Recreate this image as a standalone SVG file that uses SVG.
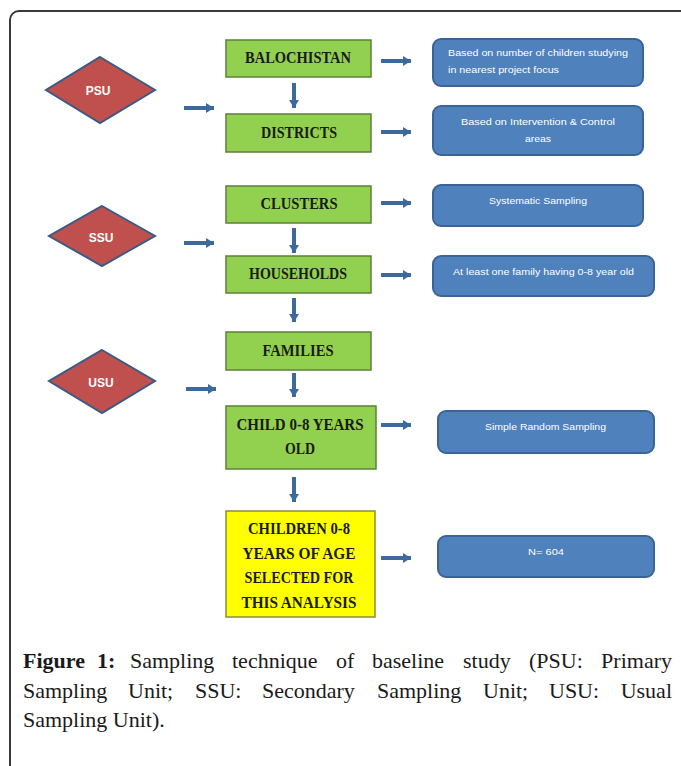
<svg xmlns="http://www.w3.org/2000/svg" width="681" height="766" viewBox="0 0 681 766">
<defs>
<marker id="ah" markerWidth="8" markerHeight="10" refX="8" refY="5" orient="auto" markerUnits="userSpaceOnUse">
<path d="M0,0 L8,5 L0,10 z" fill="#3d6a9c"/>
</marker>
<style>
.frame{fill:none;stroke:#3a3a3a;stroke-width:2}
.dia{fill:#c0504d;stroke:#3b5a86;stroke-width:2}
.dlab{font-family:"Liberation Sans",Arial,sans-serif;font-size:12px;font-weight:bold;fill:#ffffff;text-anchor:middle}
.green{fill:#92d050;stroke:#5f7f3a;stroke-width:1.5}
.yellow{fill:#ffff00;stroke:#8c8c3a;stroke-width:1.5}
.glab{font-family:"Liberation Serif","Times New Roman",serif;font-size:16px;font-weight:bold;fill:#1a1a1a;text-anchor:middle}
.blue{fill:#4f81bd;stroke:#3a6396;stroke-width:2}
.blab{font-family:"Liberation Sans",Arial,sans-serif;font-size:9px;fill:#ffffff}
.conn line{stroke:#3d6a9c;stroke-width:4;marker-end:url(#ah)}
.cap{font-family:"Liberation Serif","Times New Roman",serif;font-size:22px;fill:#1a1a1a}
</style>
</defs>
<rect class="frame" x="10" y="11" width="700" height="800" rx="9"/>

<g id="psu"><polygon class="dia" points="100,57 155,90 100,123 46,90"/><text class="dlab" x="98" y="95">PSU</text></g>
<g id="ssu"><polygon class="dia" points="102,206 155,236 102,266 49,236"/><text class="dlab" x="101" y="242">SSU</text></g>
<g id="usu"><polygon class="dia" points="102,350 155,381 102,413 49,381"/><text class="dlab" x="101" y="387">USU</text></g>

<g id="balochistan"><rect class="green" x="226" y="40" width="145" height="37"/><text class="glab" x="298" y="63" textLength="106" lengthAdjust="spacingAndGlyphs">BALOCHISTAN</text></g>
<g id="districts"><rect class="green" x="226" y="114" width="145" height="38"/><text class="glab" x="299" y="138" textLength="76" lengthAdjust="spacingAndGlyphs">DISTRICTS</text></g>
<g id="clusters"><rect class="green" x="226" y="186" width="145" height="37"/><text class="glab" x="299" y="209" textLength="77" lengthAdjust="spacingAndGlyphs">CLUSTERS</text></g>
<g id="households"><rect class="green" x="226" y="256" width="145" height="37"/><text class="glab" x="298" y="279" textLength="98" lengthAdjust="spacingAndGlyphs">HOUSEHOLDS</text></g>
<g id="families"><rect class="green" x="226" y="332" width="145" height="38"/><text class="glab" x="298" y="356" textLength="71" lengthAdjust="spacingAndGlyphs">FAMILIES</text></g>
<g id="child"><rect class="green" x="226" y="406" width="150" height="63"/><text class="glab" x="300" y="430" textLength="127" lengthAdjust="spacingAndGlyphs">CHILD 0-8 YEARS</text><text class="glab" x="300" y="454" textLength="30" lengthAdjust="spacingAndGlyphs">OLD</text></g>
<g id="selected"><rect class="yellow" x="226" y="511" width="149" height="106"/>
<text class="glab" x="299" y="534" textLength="102" lengthAdjust="spacingAndGlyphs">CHILDREN 0-8</text>
<text class="glab" x="299" y="559" textLength="113" lengthAdjust="spacingAndGlyphs">YEARS OF AGE</text>
<text class="glab" x="299" y="583" textLength="109" lengthAdjust="spacingAndGlyphs">SELECTED FOR</text>
<text class="glab" x="299" y="608" textLength="115" lengthAdjust="spacingAndGlyphs">THIS ANALYSIS</text></g>

<g id="b1"><rect class="blue" x="433" y="39" width="210" height="47" rx="8"/><text class="blab" x="448" y="56" textLength="180" lengthAdjust="spacingAndGlyphs">Based on number of children studying</text><text class="blab" x="448" y="73" textLength="111" lengthAdjust="spacingAndGlyphs">in nearest project focus</text></g>
<g id="b2"><rect class="blue" x="433" y="106" width="210" height="49" rx="8"/><text class="blab" x="461" y="125" textLength="154" lengthAdjust="spacingAndGlyphs">Based on Intervention &amp; Control</text><text class="blab" x="525" y="142" textLength="26" lengthAdjust="spacingAndGlyphs">areas</text></g>
<g id="b3"><rect class="blue" x="433" y="185" width="210" height="41" rx="8"/><text class="blab" x="489" y="204" textLength="98" lengthAdjust="spacingAndGlyphs">Systematic Sampling</text></g>
<g id="b4"><rect class="blue" x="433" y="256" width="221" height="40" rx="8"/><text class="blab" x="453" y="275" textLength="181" lengthAdjust="spacingAndGlyphs">At least one family having 0-8 year old</text></g>
<g id="b5"><rect class="blue" x="438" y="411" width="216" height="42" rx="8"/><text class="blab" x="485" y="430" textLength="121" lengthAdjust="spacingAndGlyphs">Simple Random Sampling</text></g>
<g id="b6"><rect class="blue" x="438" y="536" width="216" height="41" rx="8"/><text class="blab" x="528" y="555" textLength="36" lengthAdjust="spacingAndGlyphs">N= 604</text></g>

<g id="connectors" class="conn">
<line x1="184" y1="108" x2="214" y2="108"/>
<line x1="184" y1="243" x2="214" y2="243"/>
<line x1="186" y1="389" x2="216" y2="389"/>
<line x1="381" y1="61" x2="411" y2="61"/>
<line x1="381" y1="132" x2="411" y2="132"/>
<line x1="381" y1="203" x2="411" y2="203"/>
<line x1="381" y1="275" x2="411" y2="275"/>
<line x1="381" y1="425" x2="411" y2="425"/>
<line x1="381" y1="558" x2="411" y2="558"/>
<line x1="294" y1="83" x2="294" y2="108"/>
<line x1="294" y1="228" x2="294" y2="253"/>
<line x1="294" y1="298" x2="294" y2="322"/>
<line x1="294" y1="373" x2="294" y2="397"/>
<line x1="294" y1="477" x2="294" y2="502"/>
</g>

<g id="caption" class="cap">
<text y="668"><tspan x="23" font-weight="bold">Figure</tspan><tspan x="97" font-weight="bold">1:</tspan><tspan x="130">Sampling</tspan><tspan x="232">technique</tspan><tspan x="336">of</tspan><tspan x="372">baseline</tspan><tspan x="463">study</tspan><tspan x="529">(PSU:</tspan><tspan x="672" text-anchor="end">Primary</tspan></text>
<text y="698"><tspan x="23">Sampling</tspan><tspan x="128">Unit;</tspan><tspan x="195">SSU:</tspan><tspan x="262">Secondary</tspan><tspan x="377">Sampling</tspan><tspan x="483">Unit;</tspan><tspan x="549">USU:</tspan><tspan x="672" text-anchor="end">Usual</tspan></text>
<text x="23" y="727">Sampling Unit).</text>
</g>
</svg>
